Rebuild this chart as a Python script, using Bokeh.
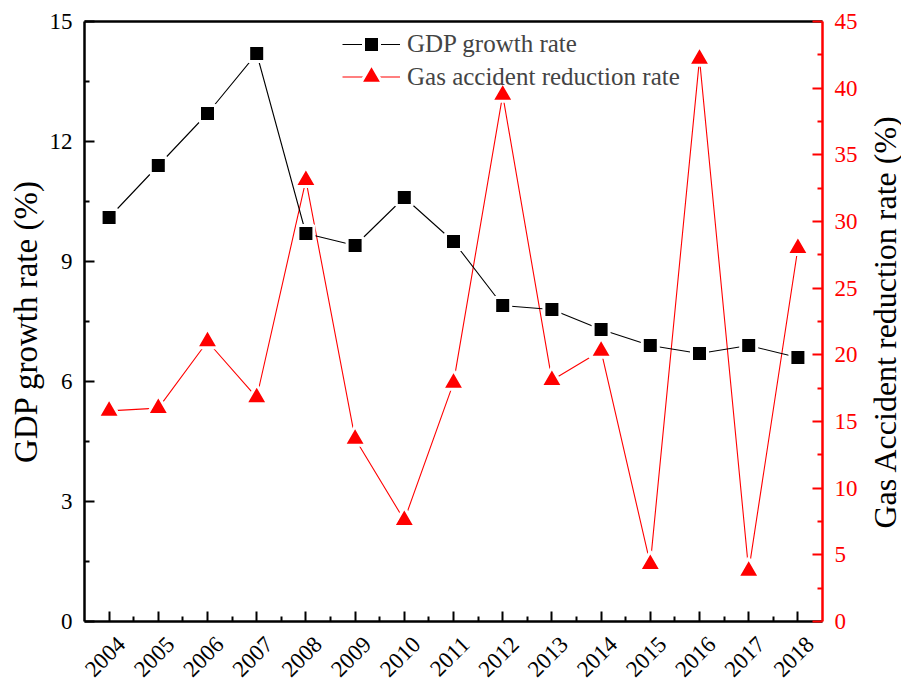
import numpy as np
from bokeh.plotting import figure
from bokeh.models import (Range1d, LinearAxis, FixedTicker, Legend, LegendItem,
                          Label)
from bokeh.embed import file_html
from bokeh.resources import INLINE

# Annual series, 2004-2018
years = list(range(2004, 2019))
gdp_growth = [10.1, 11.4, 12.7, 14.2, 9.7, 9.4, 10.6, 9.5, 7.9, 7.8, 7.3, 6.9, 6.7, 6.9, 6.6]
gas_reduction = [15.8, 16.0, 21.0, 16.8, 33.1, 13.7, 7.6, 17.9, 39.5, 18.1, 20.3, 4.3, 42.2, 3.8, 28.0]

# Axis ticks
gdp_ticks = [0, 3, 6, 9, 12, 15]
gdp_minor = [1.5, 4.5, 7.5, 10.5, 13.5]
gas_ticks = [0, 5, 10, 15, 20, 25, 30, 35, 40, 45]
gas_minor = [2.5, 7.5, 12.5, 17.5, 22.5, 27.5, 32.5, 37.5, 42.5]
year_minor = [y + 0.5 for y in years[:-1]]

FONT = "Liberation Serif"
X_START, X_END = 2003.5, 2018.5
LABEL_SHIFT = 0.25   # year labels sit a little right of their ticks

p = figure(width=901, height=686,
           x_range=Range1d(X_START, X_END), y_range=Range1d(0, 15),
           output_backend="svg", toolbar_location=None,
           min_border_left=84, min_border_right=79,
           min_border_top=21, min_border_bottom=65)
p.extra_y_ranges = {"gas": Range1d(0, 45)}
p.extra_x_ranges = {"yearlab": Range1d(X_START - LABEL_SHIFT, X_END - LABEL_SHIFT)}
p.xgrid.visible = False
p.ygrid.visible = False
p.outline_line_color = None
p.background_fill_color = "white"
p.border_fill_color = "white"


def style_axis(ax, color="black"):
    ax.axis_line_color = color
    ax.axis_line_width = 2.5
    ax.major_tick_line_color = color
    ax.minor_tick_line_color = color
    ax.major_tick_line_width = 2
    ax.minor_tick_line_width = 2
    ax.major_tick_in = 10
    ax.major_tick_out = 0
    ax.minor_tick_in = 5
    ax.minor_tick_out = 0
    ax.major_label_text_font = FONT
    ax.major_label_text_font_size = "23px"
    ax.major_label_text_color = color
    ax.axis_label_text_font = FONT
    ax.axis_label_text_font_size = "33px"
    ax.axis_label_text_font_style = "normal"
    ax.axis_label_text_color = "black"


# bottom axis: year ticks
xa = p.xaxis[0]
xa.ticker = FixedTicker(ticks=years, minor_ticks=year_minor)
style_axis(xa)
xa.major_label_text_font_size = "0px"
xa.major_label_standoff = 0

# rotated year labels
xl = LinearAxis(x_range_name="yearlab", ticker=FixedTicker(ticks=years))
xl.axis_line_color = None
xl.major_tick_line_color = None
xl.minor_tick_line_color = None
xl.major_tick_out = 0
xl.major_tick_in = 0
xl.major_label_orientation = np.pi / 4
xl.major_label_standoff = 19
xl.major_label_text_font = FONT
xl.major_label_text_font_size = "23px"
xl.major_label_text_color = "black"
p.add_layout(xl, "below")

# left axis: GDP growth
ya = p.yaxis[0]
ya.ticker = FixedTicker(ticks=gdp_ticks, minor_ticks=gdp_minor)
style_axis(ya)
ya.axis_label = "GDP growth rate (%)"
ya.major_label_standoff = 12
ya.axis_label_standoff = 3

# right axis: gas accident reduction
ra = LinearAxis(y_range_name="gas",
                ticker=FixedTicker(ticks=gas_ticks, minor_ticks=gas_minor))
style_axis(ra, "red")
ra.major_label_standoff = 12
p.add_layout(ra, "right")

# right axis title, reading bottom to top
p.add_layout(Label(x=24, x_units="screen", y=300, y_units="screen",
                   text="Gas Accident reduction rate (%)", angle=np.pi / 2,
                   text_align="center", text_baseline="middle",
                   text_font=FONT, text_font_size="32px", text_color="black"),
             "right")

# top frame line
ta = LinearAxis(ticker=FixedTicker(ticks=[]))
ta.axis_line_width = 2.5
ta.axis_line_color = "black"
ta.major_label_text_font_size = "0px"
ta.major_tick_line_color = None
ta.minor_tick_line_color = None
p.add_layout(ta, "above")

# gas accident reduction series
gl = p.line(years, gas_reduction, y_range_name="gas", line_color="red", line_width=1.1)
gm = p.scatter(years, gas_reduction, y_range_name="gas", marker="triangle", size=22,
               fill_color="red", line_color="white", line_width=3, line_join="round")

# GDP growth series
bl = p.line(years, gdp_growth, line_color="black", line_width=1.1)
bm = p.scatter(years, gdp_growth, marker="square", size=16,
               fill_color="black", line_color="white", line_width=3)

legend_style = dict(orientation="vertical", border_line_color=None,
                    background_fill_alpha=0, padding=0, margin=0, spacing=0,
                    glyph_width=58, label_standoff=7,
                    label_text_font=FONT, label_text_font_size="25px")

# one legend box per row so each row keeps its own marker size
leg_gdp = Legend(items=[LegendItem(label="GDP growth rate", renderers=[bl, bm])],
                 location=(258, 557), glyph_height=40, label_height=40, **legend_style)
leg_gas = Legend(items=[LegendItem(label="Gas accident reduction rate", renderers=[gl, gm])],
                 location=(258, 517), glyph_height=55, label_height=55, **legend_style)
p.add_layout(leg_gdp)
p.add_layout(leg_gas)

open("out.html", "w").write(file_html(p, INLINE))
